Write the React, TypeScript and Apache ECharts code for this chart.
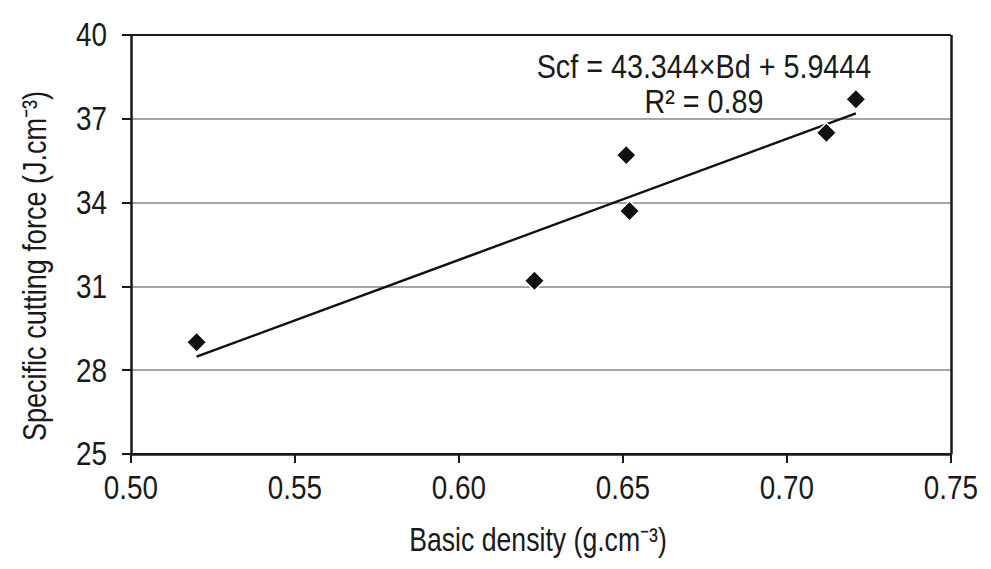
import React, { useEffect, useRef } from "react";
import * as echarts from "echarts";

const basicDensity = [0.52, 0.623, 0.651, 0.652, 0.712, 0.721];
const cuttingForce = [29.0, 31.2, 35.7, 33.7, 36.5, 37.7];
const trendSlope = 43.344;
const trendIntercept = 5.9444;
const equationLines = ["Scf = 43.344×Bd + 5.9444", "R² = 0.89"];
const xTickValues = [0.5, 0.55, 0.6, 0.65, 0.7, 0.75];
const xTickLabels = ["0.50", "0.55", "0.60", "0.65", "0.70", "0.75"];
const yTickValues = [25, 28, 31, 34, 37, 40];
const yTickLabels = ["25", "28", "31", "34", "37", "40"];
const xAxisTitle = "Basic density (g.cm⁻³)";
const yAxisTitle = "Specific cutting force (J.cm⁻³)";

const FONT = "'Liberation Sans', Arial, sans-serif";
const INK = "#1a1a1a";

export default function App() {
  const ref = useRef<HTMLDivElement>(null);
  useEffect(() => {
    if (!ref.current) return;
    const chart = echarts.init(ref.current, undefined, { renderer: "svg" });
    const points = basicDensity.map((x, i) => [x, cuttingForce[i]]);
    const xMin = Math.min(...basicDensity);
    const xMax = Math.max(...basicDensity);
    const trend = [
      [xMin, trendSlope * xMin + trendIntercept],
      [xMax, trendSlope * xMax + trendIntercept],
    ];
    const gray = "#a6a6a6";
    const clear = "rgba(0,0,0,0)";
    chart.setOption({
      animation: false,
      backgroundColor: "#ffffff",
      textStyle: { fontFamily: FONT },
      grid: { left: 131, right: 40, top: 35, bottom: 115, containLabel: false },
      xAxis: {
        type: "value",
        min: xTickValues[0],
        max: xTickValues[xTickValues.length - 1],
        interval: 0.05,
        axisLine: { show: true, onZero: false, lineStyle: { color: INK, width: 2.5 } },
        axisTick: { show: true, inside: false, length: 9, lineStyle: { color: INK, width: 2 } },
        axisLabel: { show: false },
        splitLine: {
          show: true,
          lineStyle: { width: 2.5, color: [clear, clear, clear, clear, clear, INK] },
        },
      },
      yAxis: {
        type: "value",
        min: yTickValues[0],
        max: yTickValues[yTickValues.length - 1],
        interval: 3,
        axisLine: { show: true, onZero: false, lineStyle: { color: INK, width: 2.5 } },
        axisTick: { show: true, inside: false, length: 9, lineStyle: { color: INK, width: 2 } },
        axisLabel: { show: false },
        splitLine: {
          show: true,
          lineStyle: { width: 2, color: [INK, gray, gray, gray, gray, INK] },
        },
      },
      series: [
        {
          type: "line",
          data: trend,
          symbol: "none",
          lineStyle: { color: "#111111", width: 2.5 },
          z: 2,
        },
        {
          type: "scatter",
          data: points,
          symbol: "diamond",
          symbolSize: [20, 20],
          itemStyle: { color: "#111111", borderColor: "#ffffff", borderWidth: 1.5, opacity: 1 },
          z: 3,
        },
      ],
    });

    const toPx = (x: number, y: number) =>
      chart.convertToPixel({ xAxisIndex: 0, yAxisIndex: 0 }, [x, y]) as number[];
    const origin = toPx(xTickValues[0], yTickValues[0]);
    const topRight = toPx(xTickValues[xTickValues.length - 1], yTickValues[yTickValues.length - 1]);
    const axisX = origin[0];
    const axisY = origin[1];

    const texts: any[] = [];
    yTickValues.forEach((v, i) => {
      const p = toPx(xTickValues[0], v);
      texts.push({
        type: "text",
        x: axisX - 24,
        y: p[1],
        scaleX: 0.82,
        style: {
          text: yTickLabels[i],
          fontFamily: FONT,
          fontSize: 34,
          fill: INK,
          align: "right",
          verticalAlign: "middle",
        },
      });
    });
    xTickValues.forEach((v, i) => {
      const p = toPx(v, yTickValues[0]);
      texts.push({
        type: "text",
        x: p[0],
        y: axisY + 34,
        scaleX: 0.82,
        style: {
          text: xTickLabels[i],
          fontFamily: FONT,
          fontSize: 34,
          fill: INK,
          align: "center",
          verticalAlign: "middle",
        },
      });
    });
    texts.push({
      type: "text",
      x: (axisX + topRight[0]) / 2 - 3,
      y: axisY + 86,
      scaleX: 0.82,
      style: {
        text: xAxisTitle,
        fontFamily: FONT,
        fontSize: 32.5,
        fill: INK,
        align: "center",
        verticalAlign: "middle",
      },
    });
    texts.push({
      type: "text",
      x: 35,
      y: 266,
      rotation: Math.PI / 2,
      scaleX: 0.82,
      style: {
        text: yAxisTitle,
        fontFamily: FONT,
        fontSize: 33,
        fill: INK,
        align: "center",
        verticalAlign: "middle",
      },
    });
    equationLines.forEach((line, i) => {
      texts.push({
        type: "text",
        x: 704,
        y: 67 + i * 35,
        scaleX: 0.845,
        style: {
          text: line,
          fontFamily: FONT,
          fontSize: 34,
          fill: INK,
          align: "center",
          verticalAlign: "middle",
        },
      });
    });

    chart.setOption({ graphic: [{ type: "group", id: "labels", children: texts }] });
    return () => chart.dispose();
  }, []);
  return (
    <div
      ref={ref}
      style={{ position: "fixed", left: 0, top: 0, width: 991, height: 569, background: "#fff" }}
    />
  );
}
